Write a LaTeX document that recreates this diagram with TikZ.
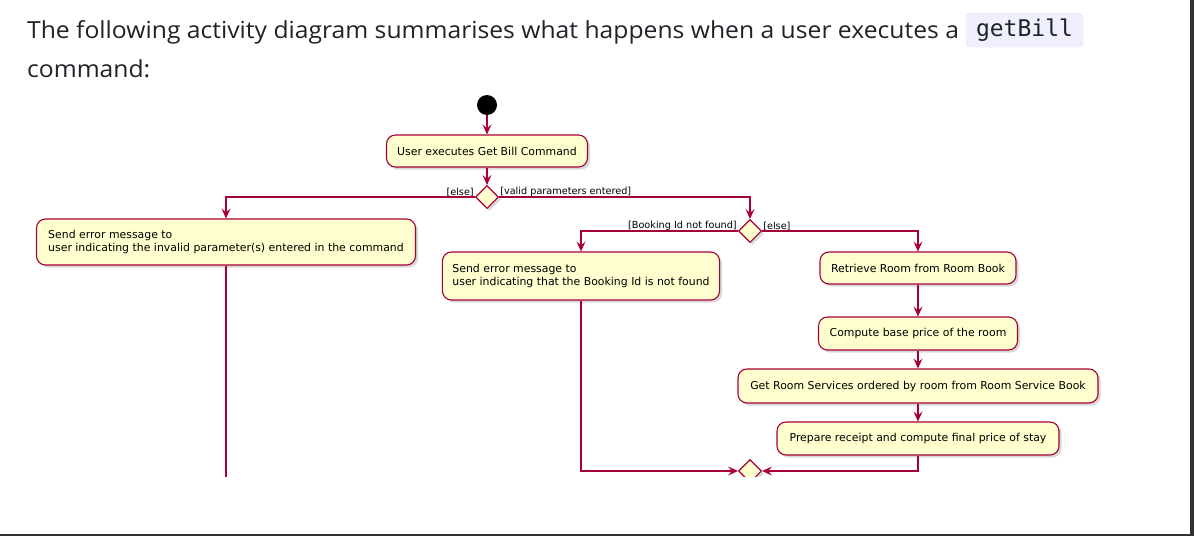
\documentclass[tikz,border=0pt]{standalone}
\usepackage{fontspec}
\setmainfont{Open Sans}[FakeStretch=1.05]
\newfontfamily\umlfont{DejaVu Sans}
\newfontfamily\codefont{DejaVu Sans Mono}
\usepackage{xcolor}
\usetikzlibrary{shapes.geometric,shadows,arrows.meta}
\definecolor{umlborder}{RGB}{168,0,54}
\definecolor{umlfill}{RGB}{254,254,206}
\definecolor{codebg}{RGB}{239,239,253}
\definecolor{codeline}{RGB}{228,228,244}
\definecolor{ink}{RGB}{31,35,40}
\definecolor{pageframe}{RGB}{50,50,50}

\begin{document}
\begin{tikzpicture}[x=1pt, y=-1pt,
  actbox/.style={draw=umlborder, fill=umlfill, line width=1.1pt, rounded corners=9pt,
              minimum height=32pt, inner xsep=10pt, align=center,
              font=\umlfont\fontsize{10.9}{13}\selectfont,
              drop shadow={shadow xshift=2.5pt, shadow yshift=-2.5pt, opacity=0.3}},
  decision/.style={diamond, draw=umlborder, fill=umlfill, line width=1.1pt,
              minimum size=23pt, inner sep=0pt,
              drop shadow={shadow xshift=2.5pt, shadow yshift=-2.5pt, opacity=0.3}},
  guard/.style={inner xsep=1pt, inner ysep=0pt, font=\umlfont\fontsize{9.7}{11}\selectfont},
  flow/.style={draw=umlborder, line width=1.1pt,
              -{Stealth[length=10pt, width=9pt, inset=4pt]}},
  plain/.style={draw=umlborder, line width=1.1pt},
]
\useasboundingbox (0,0) rectangle (1194,536);
\fill[white] (0,0) rectangle (1194,536);

% Heading
\node[anchor=base west, inner sep=0pt, text=ink, font=\fontsize{23.5}{28}\selectfont] (intro) at (27,38)
  {The following activity diagram summarises what happens when a user executes a};
\node[fill=codebg, draw=codeline, rounded corners=4pt, minimum width=117pt, minimum height=34pt,
      inner sep=0pt, text=ink, font=\codefont\fontsize{23}{27}\selectfont] (code) at (1024.5,30) {getBill};
\node[anchor=base west, inner sep=0pt, text=ink, font=\fontsize{23.5}{28}\selectfont] (intro2) at (27,77)
  {command:};

\begin{scope}
\clip (0,0) rectangle (1194,476);

% Start
\node[circle, fill=black, minimum size=20pt, inner sep=0pt] (start) at (487,105) {};

% Activities
\node[actbox, minimum width=201pt] (cmd) at (487,151) {User executes Get Bill Command};
\node[decision] (valid) at (487,197) {};
\node[actbox, align=left, minimum width=379pt, minimum height=46pt] (errparam) at (226,242)
  {Send error message to\\user indicating the invalid parameter(s) entered in the command};
\node[decision] (found) at (750,231) {};
\node[actbox, align=left, minimum width=277pt, minimum height=48pt] (errid) at (581,276)
  {Send error message to\\user indicating that the Booking Id is not found};
\node[actbox, minimum width=196pt] (room) at (918,268) {Retrieve Room from Room Book};
\node[actbox, minimum width=199pt, minimum height=33pt] (base) at (918,333.5) {Compute base price of the room};
\node[actbox, minimum width=360pt, minimum height=34pt] (services) at (918,386)
  {Get Room Services ordered by room from Room Service Book};
\node[actbox, minimum width=282pt, minimum height=33pt] (receipt) at (918,438.5)
  {Prepare receipt and compute final price of stay};
\node[decision] (merge) at (750,471) {};
\coordinate (cut) at (226,480);

% Guards
\node[guard, anchor=south east] (g1) at (valid.west) {[else]};
\node[guard, anchor=south west] (g2) at (valid.east) {[valid parameters entered]};
\node[guard, anchor=south east] (g3) at (found.west) {[Booking Id not found]};
\node[guard, anchor=south west] (g4) at (found.east) {[else]};

% Arrows
\draw[flow] (start) -- (cmd);
\draw[flow] (cmd) -- (valid);
\draw[flow] (valid.west) -| (errparam.north);
\draw[flow] (valid.east) -| (found.north);
\draw[flow] (found.west) -| (errid.north);
\draw[flow] (found.east) -| (room.north);
\draw[flow] (room) -- (base);
\draw[flow] (base) -- (services);
\draw[flow] (services) -- (receipt);
\draw[flow] (receipt.south) |- (merge.east);
\draw[flow] (errid.south) |- (merge.west);
\draw[plain] (errparam.south) -- (cut);
\end{scope}

% Page edge
\fill[pageframe] (0,534) rectangle (1194,536);
\fill[pageframe] (1189.5,0) rectangle (1194,536);
\end{tikzpicture}
\end{document}
